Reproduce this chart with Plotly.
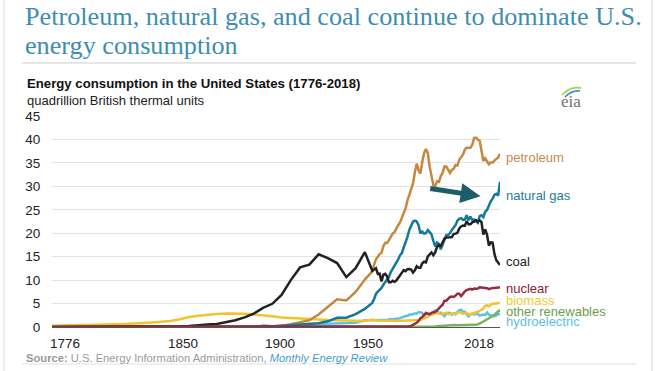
import plotly.graph_objects as go

# ---------------- data (quadrillion Btu) ----------------
years_early = [1776, 1780, 1785, 1790, 1795, 1800, 1805, 1810, 1815, 1820, 1825, 1830,
               1835, 1840, 1845, 1850, 1855, 1860, 1865, 1870, 1875, 1880, 1885, 1890,
               1895, 1900, 1905, 1910, 1915, 1920, 1925, 1930, 1935, 1940, 1945]
years_modern = list(range(1949, 2019))

petroleum_early = [0, 0, 0, 0, 0, 0, 0, 0, 0, 0, 0, 0, 0, 0, 0, 0, 0, 0.003, 0.02, 0.02,
                   0.03, 0.10, 0.04, 0.16, 0.17, 0.23, 0.61, 1.01, 1.42, 2.68, 4.28, 5.90,
                   5.68, 7.49, 10.11]
petroleum_modern = [11.88, 13.32, 14.43, 14.96, 15.56, 15.84, 17.25, 17.94, 17.93, 18.53,
                    19.32, 19.92, 20.22, 21.05, 21.70, 22.30, 23.25, 24.40, 25.28, 26.98,
                    28.34, 29.52, 30.56, 32.95, 34.84, 33.45, 32.73, 35.17, 37.12, 37.97,
                    37.12, 34.20, 31.93, 30.23, 30.05, 31.05, 30.92, 32.20, 32.87, 34.22,
                    34.21, 33.55, 32.85, 33.53, 33.74, 34.56, 34.44, 35.68, 36.16, 36.82,
                    37.84, 38.26, 38.19, 38.23, 38.81, 40.29, 40.39, 39.96, 39.77, 37.28,
                    35.40, 35.98, 35.37, 34.72, 35.08, 35.08, 35.48, 35.82, 36.17, 36.95]

gas_early = [0, 0, 0, 0, 0, 0, 0, 0, 0, 0, 0, 0, 0, 0, 0, 0, 0, 0, 0, 0, 0, 0, 0.01, 0.26,
             0.15, 0.25, 0.37, 0.54, 0.67, 0.82, 1.21, 1.97, 1.97, 2.73, 3.87]
gas_modern = [5.15, 5.97, 7.05, 7.55, 7.91, 8.33, 9.00, 9.61, 10.19, 10.66, 11.72, 12.39,
              12.93, 13.73, 14.40, 15.29, 15.77, 16.99, 17.94, 19.21, 20.68, 21.79, 22.47,
              22.70, 22.51, 21.73, 19.95, 20.35, 19.93, 20.00, 20.67, 20.24, 19.74, 18.36,
              17.20, 18.03, 17.70, 16.59, 17.64, 18.45, 19.60, 19.60, 20.03, 20.71, 21.23,
              21.73, 22.67, 23.09, 23.22, 22.83, 22.91, 23.82, 22.77, 23.56, 22.83, 22.91,
              22.56, 22.22, 23.66, 23.84, 23.42, 24.57, 24.95, 26.09, 26.81, 27.38, 28.19,
              28.40, 28.03, 30.96]

coal_early = [0, 0, 0, 0, 0, 0, 0, 0, 0, 0.01, 0.02, 0.03, 0.05, 0.09, 0.15, 0.22, 0.42,
              0.52, 0.63, 1.05, 1.44, 2.05, 2.84, 4.06, 4.95, 6.84, 10.00, 12.71, 13.29,
              15.50, 14.71, 13.64, 10.63, 12.54, 15.97]
coal_modern = [11.98, 12.35, 12.55, 11.31, 11.37, 9.71, 11.17, 11.35, 10.82, 9.53, 9.52,
               9.84, 9.62, 9.91, 10.41, 10.96, 11.58, 12.14, 11.91, 12.33, 12.38, 12.27,
               11.60, 12.08, 12.97, 12.66, 12.66, 13.58, 13.92, 13.77, 15.04, 15.42, 15.91,
               15.32, 15.89, 17.07, 17.48, 17.26, 18.01, 18.85, 19.07, 19.17, 19.12, 19.16,
               19.84, 19.91, 20.09, 21.00, 21.45, 21.66, 21.62, 22.58, 21.91, 21.90, 22.32,
               22.47, 22.80, 22.45, 22.75, 22.39, 19.69, 20.83, 19.66, 17.38, 18.04, 17.99,
               15.55, 14.23, 13.84, 13.24]

nuclear_early = [0] * 35
nuclear_modern = [0, 0, 0, 0, 0, 0, 0, 0, 0.0002, 0.002, 0.002, 0.006, 0.02, 0.026, 0.038,
                  0.04, 0.043, 0.064, 0.088, 0.142, 0.154, 0.239, 0.413, 0.584, 0.910, 1.272,
                  1.900, 2.111, 2.702, 3.024, 2.776, 2.739, 3.008, 3.131, 3.203, 3.553, 4.076,
                  4.380, 4.754, 5.587, 5.602, 6.104, 6.422, 6.479, 6.410, 6.694, 7.075, 7.087,
                  6.597, 7.068, 7.610, 7.862, 8.029, 8.145, 7.959, 8.223, 8.161, 8.215, 8.459,
                  8.426, 8.355, 8.434, 8.269, 8.062, 8.244, 8.338, 8.337, 8.427, 8.419, 8.441]

biomass_early = [0.25, 0.27, 0.30, 0.33, 0.38, 0.44, 0.50, 0.58, 0.65, 0.72, 0.83, 0.96,
                 1.10, 1.28, 1.65, 2.14, 2.40, 2.64, 2.76, 2.89, 2.90, 2.85, 2.68, 2.52,
                 2.30, 2.02, 1.95, 1.86, 1.75, 1.61, 1.50, 1.45, 1.40, 1.36, 1.26]
biomass_modern = [1.55, 1.56, 1.45, 1.39, 1.40, 1.34, 1.42, 1.40, 1.32, 1.33, 1.35, 1.32,
                  1.30, 1.32, 1.28, 1.29, 1.33, 1.37, 1.34, 1.42, 1.44, 1.43, 1.43, 1.50,
                  1.53, 1.54, 1.50, 1.71, 1.84, 2.04, 2.15, 2.48, 2.60, 2.66, 2.90, 2.99,
                  2.93, 2.73, 2.80, 2.94, 3.06, 2.74, 2.70, 2.85, 2.80, 2.94, 3.07, 3.13,
                  3.01, 2.83, 2.89, 3.01, 2.62, 2.70, 2.81, 3.01, 3.10, 3.21, 3.47, 3.85,
                  3.94, 4.51, 4.61, 4.42, 4.81, 4.99, 4.98, 5.01, 5.08, 5.13]

other_early = [0] * 35
other_modern = [0, 0, 0, 0, 0, 0, 0, 0, 0, 0, 0, 0.001, 0.002, 0.002, 0.004, 0.005, 0.004,
                0.004, 0.007, 0.009, 0.013, 0.011, 0.012, 0.031, 0.043, 0.053, 0.070, 0.078,
                0.077, 0.064, 0.084, 0.110, 0.123, 0.105, 0.129, 0.165, 0.198, 0.219, 0.229,
                0.217, 0.317, 0.393, 0.415, 0.418, 0.437, 0.434, 0.392, 0.397, 0.398, 0.400,
                0.405, 0.408, 0.364, 0.400, 0.402, 0.423, 0.454, 0.565, 0.692, 0.945, 1.184,
                1.415, 1.770, 1.975, 2.287, 2.474, 2.576, 2.989, 3.393, 3.617]

hydro_early = [0, 0, 0, 0, 0, 0, 0, 0, 0, 0, 0, 0, 0, 0, 0, 0, 0, 0, 0, 0, 0, 0, 0, 0.02,
               0.09, 0.25, 0.39, 0.54, 0.66, 0.74, 0.70, 0.79, 0.83, 0.88, 1.44]
hydro_modern = [1.42, 1.42, 1.45, 1.50, 1.44, 1.39, 1.36, 1.43, 1.47, 1.63, 1.59, 1.61,
                1.66, 1.82, 1.77, 1.89, 2.06, 2.06, 2.35, 2.35, 2.65, 2.63, 2.82, 2.86,
                2.86, 3.18, 3.15, 2.98, 2.33, 2.94, 2.93, 2.90, 2.76, 3.27, 3.53, 3.39,
                2.97, 3.07, 2.63, 2.33, 2.84, 3.05, 2.99, 2.62, 2.89, 2.68, 3.21, 3.59,
                3.64, 3.30, 3.27, 2.81, 2.24, 2.69, 2.83, 2.69, 2.70, 2.87, 2.45, 2.51,
                2.67, 2.54, 3.10, 2.63, 2.56, 2.47, 2.32, 2.47, 2.77, 2.69]

tick_labels = ["1776", "1850", "1900", "1950", "2018"]
tick_positions = [1783, 1846.8, 1899.2, 1946.7, 2006.7]   # where the source places its labels
y_ticks = [0, 5, 10, 15, 20, 25, 30, 35, 40, 45]

# ---------------- styling ----------------
W, H = 657, 371
L, R, T, B = 52, 500, 116, 327     # plot area in pixels


def px(x):
    return (x - L) / (R - L)


def py(y):
    return (B - y) / (B - T)


series = [
    ("hydroelectric", hydro_early, hydro_modern, "#5cc2ea", "#5bbfe8", 321),
    ("other renewables", other_early, other_modern, "#78b35a", "#6a9f48", 311),
    ("biomass", biomass_early, biomass_modern, "#f2c42a", "#f5c92a", 300),
    ("petroleum", petroleum_early, petroleum_modern, "#c8873f", "#c58a4a", 157),
    ("natural gas", gas_early, gas_modern, "#13799a", "#1f7a99", 195),
    ("coal", coal_early, coal_modern, "#222222", "#222222", 261),
    ("nuclear", nuclear_early, nuclear_modern, "#9a2a40", "#8b2235", 288),
]

fig = go.Figure()
years = years_early + years_modern
for name, early, modern, color, _, _ in series:
    fig.add_trace(go.Scatter(x=years, y=early + modern, mode="lines", name=name,
                             line=dict(color=color, width=2.5), showlegend=False,
                             hoverinfo="skip"))

FONT = "Liberation Sans, Arial, sans-serif"
SERIF = "Liberation Serif, Times New Roman, serif"
ann = []
for name, _, _, _, tcolor, ypix in series:
    ann.append(dict(text=name, x=px(504), y=py(ypix), xref="paper", yref="paper",
                    xanchor="left", yanchor="middle", showarrow=False,
                    font=dict(family=FONT, size=13, color=tcolor)))

# title
ann.append(dict(text="Petroleum, natural gas, and coal continue to dominate U.S.",
                x=px(23), y=py(17), xref="paper", yref="paper", xanchor="left",
                yanchor="middle", showarrow=False,
                font=dict(family=SERIF, size=26.2, color="#3d8db3")))
ann.append(dict(text="energy consumption", x=px(23), y=py(45), xref="paper", yref="paper",
                xanchor="left", yanchor="middle", showarrow=False,
                font=dict(family=SERIF, size=26.2, color="#3d8db3")))
ann.append(dict(text="<b>Energy consumption in the United States (1776-2018)</b>",
                x=px(25), y=py(83), xref="paper", yref="paper", xanchor="left",
                yanchor="middle", showarrow=False,
                font=dict(family=FONT, size=13.2, color="#111111")))
ann.append(dict(text="quadrillion British thermal units",
                x=px(25), y=py(100), xref="paper", yref="paper", xanchor="left",
                yanchor="middle", showarrow=False,
                font=dict(family=FONT, size=13, color="#222222")))
ann.append(dict(text="<b>Source:</b> U.S. Energy Information Administration, "
                     "<i><span style='color:#4a9ccb'>Monthly Energy Review</span></i>",
                x=px(24), y=py(358), xref="paper", yref="paper", xanchor="left",
                yanchor="middle", showarrow=False,
                font=dict(family=FONT, size=11.2, color="#9a9a9a")))
# eia logo text
ann.append(dict(text="eia", x=px(571), y=py(101), xref="paper", yref="paper",
                xanchor="center", yanchor="middle", showarrow=False,
                font=dict(family="Liberation Serif, serif", size=17, color="#6f6f6f")))
# arrow
ann.append(dict(text="", x=2007.5, y=27.9, xref="x", yref="y", ax=1979.5, ay=29.6,
                axref="x", ayref="y", showarrow=True, arrowhead=2, arrowsize=0.8,
                arrowwidth=5, arrowcolor="#1d5d6b"))

shapes = [
    dict(type="line", xref="paper", yref="paper", x0=px(22), x1=px(636), y0=py(63), y1=py(63),
         line=dict(color="#dedede", width=1.5)),
    dict(type="line", xref="paper", yref="paper", x0=px(22), x1=px(636), y0=py(364), y1=py(364),
         line=dict(color="#e2e2e2", width=1.2)),
    dict(type="line", xref="paper", yref="paper", x0=px(4), x1=px(4), y0=py(0), y1=py(371),
         line=dict(color="#e8e8e8", width=1.5)),
    dict(type="line", xref="paper", yref="paper", x0=px(652), x1=px(652), y0=py(0), y1=py(371),
         line=dict(color="#e4e4e4", width=1.5)),
    # eia swooshes
    dict(type="path", xref="paper", yref="paper",
         path=f"M {px(562)},{py(95)} Q {px(570)},{py(86)} {px(581)},{py(88)}",
         line=dict(color="#a9cf5a", width=1.8)),
    dict(type="path", xref="paper", yref="paper",
         path=f"M {px(565)},{py(97)} Q {px(572)},{py(90)} {px(580)},{py(91)}",
         line=dict(color="#3a8fc2", width=1.6)),
]

fig.update_layout(
    width=W, height=H,
    margin=dict(l=L, r=W - R, t=T, b=H - B),
    paper_bgcolor="white", plot_bgcolor="white",
    annotations=ann, shapes=shapes, hovermode=False,
    xaxis=dict(range=[1776, 2018], tickvals=tick_positions, ticktext=tick_labels,
               showgrid=False, zeroline=False, showline=True, linecolor="#555555",
               linewidth=1.2, layer="below traces",
               ticks="outside", ticklen=4, tickcolor="rgba(0,0,0,0)",
               tickfont=dict(family=FONT, size=13.5, color="#222222")),
    yaxis=dict(range=[0, 45], tickvals=y_ticks, showgrid=True, gridcolor="#e3e3e3",
               gridwidth=1, zeroline=False, showline=False,
               ticks="outside", ticklen=8, tickcolor="rgba(0,0,0,0)",
               tickfont=dict(family=FONT, size=13.5, color="#222222")),
)

fig.write_html("out.html", config={"displayModeBar": False},
               post_script="document.body.style.margin='0';document.body.style.overflow='hidden';")
